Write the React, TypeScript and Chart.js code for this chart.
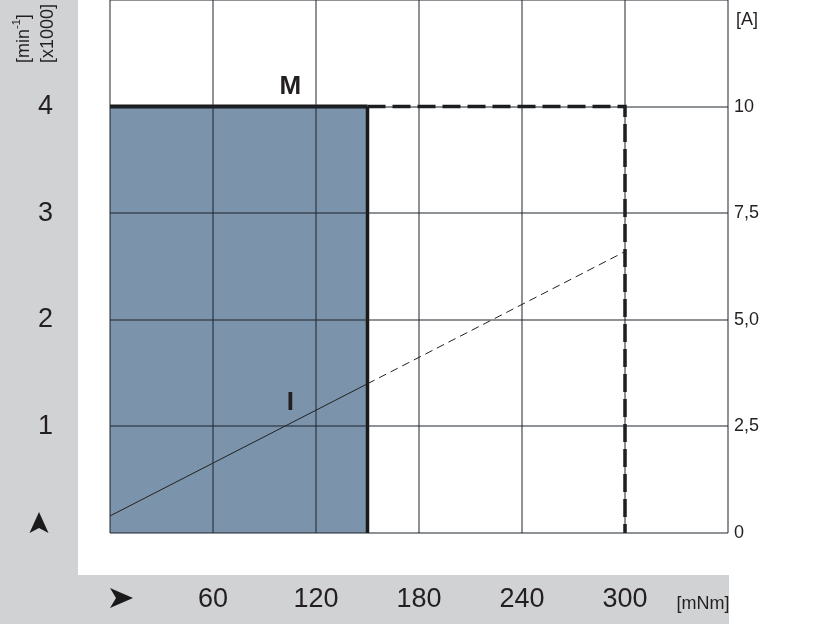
import React, { useEffect, useRef } from "react";
import { Chart, registerables } from "chart.js";

Chart.register(...registerables);

// Data
const xTicks = [60, 120, 180, 240, 300];
const speedTicks = [1, 2, 3, 4];
const currentTickValues = [0, 2.5, 5, 7.5, 10];
const currentTickLabels = ["0", "2,5", "5,0", "7,5", "10"];

const contTorque = [0, 150];      // mNm, continuous operation region
const contSpeed = [4, 4];         // x1000 min^-1
const peakTorque = [150, 300, 300];
const peakSpeed = [4, 4, 0];
const currTorqueSolid = [0, 150];
const currSolid = [0.4, 3.5];     // A
const currTorqueDash = [150, 300];
const currDash = [3.5, 6.6];      // A

const FONT = "'Liberation Sans', Arial, sans-serif";
const TEXT = "#231f20";
const GRAY_BG = "#d1d2d4";
const FILL = "#7b93ab";
const GRID = "rgba(30,35,45,0.5)";

const pts = (xs: number[], ys: number[]) => xs.map((x, i) => ({ x, y: ys[i] }));

const decor = {
  id: "decor",
  beforeDraw(chart: any) {
    const { ctx, chartArea, width, height } = chart;
    ctx.save();
    ctx.fillStyle = GRAY_BG;
    ctx.fillRect(0, 0, width, height);
    ctx.fillStyle = "#ffffff";
    const wl = chartArea.left - 32;
    const wb = chartArea.bottom + 42;
    ctx.fillRect(wl, 0, width - wl, wb);
    ctx.fillRect(chartArea.right + 1, wb, width - chartArea.right - 1, height - wb);
    ctx.restore();
  },
  afterDraw(chart: any) {
    const { ctx, chartArea, scales } = chart;
    const xs = scales.x, ys = scales.y, y2 = scales.y2;
    ctx.save();
    ctx.fillStyle = TEXT;
    // unit labels
    ctx.font = `18px ${FONT}`;
    ctx.textBaseline = "middle";
    ctx.textAlign = "left";
    ctx.fillText("[A]", chartArea.right + 8, chartArea.top + 20);
    ctx.textAlign = "center";
    ctx.fillText("[mNm]", chartArea.right - 25, xs.bottom - 20);
    // rotated left labels
    ctx.save();
    ctx.translate(24, 63);
    ctx.rotate(-Math.PI / 2);
    ctx.textAlign = "left";
    ctx.fillText("[min", 0, 0);
    const w1 = ctx.measureText("[min").width;
    ctx.font = `11px ${FONT}`;
    ctx.fillText("-1", w1, -7);
    const w2 = ctx.measureText("-1").width;
    ctx.font = `18px ${FONT}`;
    ctx.fillText("]", w1 + w2, 0);
    ctx.restore();
    ctx.save();
    ctx.translate(48, 63);
    ctx.rotate(-Math.PI / 2);
    ctx.textAlign = "left";
    ctx.fillText("[x1000]", 0, 0);
    ctx.restore();
    // curve labels
    ctx.font = `bold 26px ${FONT}`;
    ctx.textAlign = "center";
    ctx.fillText("M", xs.getPixelForValue(105), ys.getPixelForValue(4.19));
    ctx.fillText("I", xs.getPixelForValue(105), y2.getPixelForValue(3.05));
    // arrows
    const ux = chartArea.left - 71, uy = chartArea.bottom;
    ctx.fillStyle = "#1a1a1a";
    ctx.beginPath();
    ctx.moveTo(ux, uy - 21);
    ctx.lineTo(ux + 9.5, uy);
    ctx.lineTo(ux, uy - 5);
    ctx.lineTo(ux - 9.5, uy);
    ctx.closePath();
    ctx.fill();
    const rx = chartArea.left, ry = xs.bottom - 26;
    ctx.beginPath();
    ctx.moveTo(rx + 23, ry);
    ctx.lineTo(rx, ry - 10);
    ctx.lineTo(rx + 6, ry);
    ctx.lineTo(rx, ry + 10);
    ctx.closePath();
    ctx.fill();
    ctx.restore();
  },
};

export default function App() {
  const ref = useRef<HTMLCanvasElement | null>(null);
  useEffect(() => {
    document.body.style.margin = "0";
    const chart = new Chart(ref.current!, {
      type: "line",
      data: {
        datasets: [
          {
            data: pts(contTorque, contSpeed),
            borderColor: "#1a1a1a",
            borderWidth: 4,
            backgroundColor: FILL,
            fill: "origin",
            pointRadius: 0,
            yAxisID: "y",
            order: 10,
          },
          {
            data: pts([contTorque[1], contTorque[1]], [0, contSpeed[1]]),
            borderColor: "#1a1a1a",
            borderWidth: 3.5,
            fill: false,
            pointRadius: 0,
            yAxisID: "y",
            order: 2,
          },
          {
            data: pts(peakTorque, peakSpeed),
            borderColor: "#1a1a1a",
            borderWidth: 3.5,
            borderDash: [18, 7],
            fill: false,
            pointRadius: 0,
            yAxisID: "y",
            order: 3,
          },
          {
            data: pts(currTorqueSolid, currSolid),
            borderColor: "#222222",
            borderWidth: 1,
            fill: false,
            pointRadius: 0,
            yAxisID: "y2",
            order: 1,
          },
          {
            data: pts(currTorqueDash, currDash),
            borderColor: "#222222",
            borderWidth: 1,
            borderDash: [8, 5],
            fill: false,
            pointRadius: 0,
            yAxisID: "y2",
            order: 1,
          },
        ],
      },
      options: {
        responsive: false,
        animation: false,
        devicePixelRatio: 1,
        layout: { padding: 0 },
        plugins: { legend: { display: false }, tooltip: { enabled: false } },
        scales: {
          x: {
            type: "linear",
            min: 0,
            max: 360,
            afterFit: (s: any) => { s.height = 91; s.paddingLeft = 0; s.paddingRight = 0; },
            border: { display: false },
            grid: { color: GRID, lineWidth: 2, drawTicks: false, z: 1 },
            ticks: {
              stepSize: 60,
              padding: 50,
              color: TEXT,
              font: { family: FONT, size: 27 },
              maxRotation: 0,
              callback: (v: any) => (xTicks.includes(v) ? String(v) : ""),
            },
          },
          y: {
            type: "linear",
            min: 0,
            max: 5,
            afterFit: (s: any) => { s.width = 110; s.paddingTop = 0; s.paddingBottom = 0; },
            border: { display: false },
            grid: { color: GRID, lineWidth: 2, drawTicks: false, z: 1 },
            ticks: {
              stepSize: 1,
              padding: 57,
              color: TEXT,
              font: { family: FONT, size: 27 },
              callback: (v: any) => (speedTicks.includes(v) ? String(v) : ""),
            },
          },
          y2: {
            type: "linear",
            position: "right",
            min: 0,
            max: 12.5,
            afterFit: (s: any) => { s.width = 88; s.paddingTop = 0; s.paddingBottom = 0; },
            border: { display: false },
            grid: { drawOnChartArea: false, drawTicks: false },
            ticks: {
              stepSize: 2.5,
              padding: 6,
              color: TEXT,
              font: { family: FONT, size: 18 },
              callback: (v: any) => {
                const i = currentTickValues.indexOf(v);
                return i >= 0 ? currentTickLabels[i] : "";
              },
            },
          },
        },
      },
      plugins: [decor],
    } as any);
    return () => chart.destroy();
  }, []);
  return (
    <div style={{ position: "absolute", left: 0, top: 0, width: 816, height: 624 }}>
      <canvas ref={ref} width={816} height={624} style={{ display: "block" }} />
    </div>
  );
}
